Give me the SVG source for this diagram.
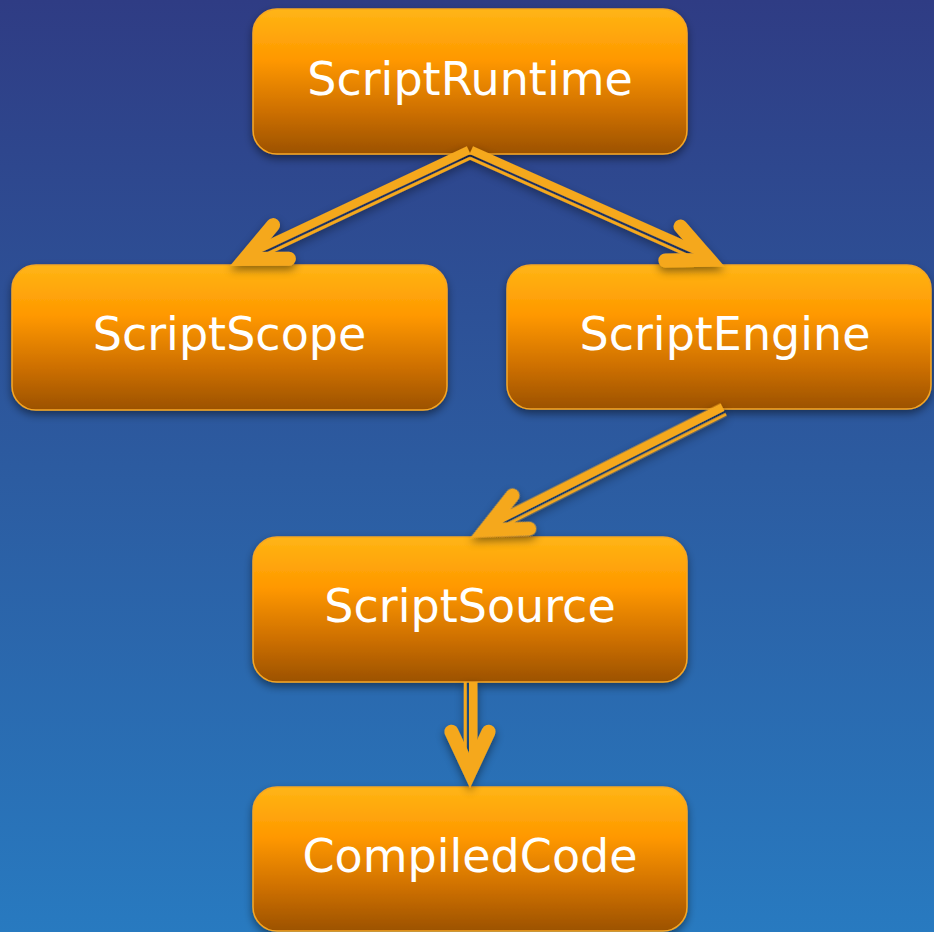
<svg xmlns="http://www.w3.org/2000/svg" width="934" height="932" viewBox="0 0 934 932">
  <defs>
    <linearGradient id="bg" x1="0" y1="0" x2="0" y2="1">
      <stop offset="0" stop-color="#2F3C84"/>
      <stop offset="0.5" stop-color="#2C5BA0"/>
      <stop offset="1" stop-color="#287AC0"/>
    </linearGradient>
    <linearGradient id="boxFill" x1="0" y1="0" x2="0" y2="1">
      <stop offset="0" stop-color="#FFB515"/>
      <stop offset="0.35" stop-color="#FF9800"/>
      <stop offset="0.7" stop-color="#CE7000"/>
      <stop offset="1" stop-color="#9C5200"/>
    </linearGradient>
    <filter id="shadow" x="-10%" y="-10%" width="120%" height="135%">
      <feDropShadow dx="0" dy="4" stdDeviation="4" flood-color="#000" flood-opacity="0.45"/>
    </filter>
  </defs>
  <style>
    .node rect { fill: url(#boxFill); stroke: #F6A623; stroke-width: 1.5; filter: url(#shadow); }
    .node text { font-family: "DejaVu Sans", "Liberation Sans", sans-serif; font-size: 46px; fill: #FFFFFF; text-anchor: middle; }
    .edge line { stroke: #F5A81F; stroke-linecap: butt; }
    .edge .thick { stroke-width: 8.5; }
    .edge .thin { stroke-width: 3; }
    .edge .head { fill: none; stroke: #F5A81F; stroke-width: 14; stroke-linecap: round; stroke-linejoin: miter; }
    #connectors { filter: url(#shadow); }
  </style>

  <rect x="0" y="0" width="934" height="932" fill="url(#bg)"/>

  <g id="nodes">
    <g id="ScriptRuntime" class="node">
      <rect x="253" y="9" width="434" height="145" rx="24" ry="24"/>
      <text x="470" y="95">ScriptRuntime</text>
    </g>
    <g id="ScriptScope" class="node">
      <rect x="12" y="265" width="435" height="145" rx="24" ry="24"/>
      <text x="229.5" y="350">ScriptScope</text>
    </g>
    <g id="ScriptEngine" class="node">
      <rect x="507" y="265" width="424" height="144" rx="24" ry="24"/>
      <text x="725" y="350">ScriptEngine</text>
    </g>
    <g id="ScriptSource" class="node">
      <rect x="253" y="537" width="434" height="145" rx="24" ry="24"/>
      <text x="470" y="622">ScriptSource</text>
    </g>
    <g id="CompiledCode" class="node">
      <rect x="253" y="787" width="434" height="144" rx="24" ry="24"/>
      <text x="470" y="872">CompiledCode</text>
    </g>
  </g>

  <!-- double-lined arrows: thick rail + thin rail, open V head -->
  <g id="connectors">
    <g class="edge" id="runtime-scope" transform="translate(470,153) rotate(154.8)">
      <line class="thick" x1="0" y1="3.2" x2="244" y2="3.2"/>
      <line class="thin" x1="2" y1="-4.8" x2="236" y2="-4.8"/>
      <path class="head" d="M208.9,-18.6 L248.8,0 L208.9,18.6"/>
    </g>
    <g class="edge" id="runtime-engine" transform="translate(470,153) rotate(24.03)">
      <line class="thick" x1="0" y1="-3.2" x2="257" y2="-3.2"/>
      <line class="thin" x1="2" y1="4.8" x2="249" y2="4.8"/>
      <path class="head" d="M222.2,-18.6 L262.1,0 L222.2,18.6"/>
    </g>
    <g class="edge" id="engine-source" transform="translate(724,410) rotate(153.3)">
      <line class="thick" x1="0" y1="3.2" x2="262" y2="3.2"/>
      <line class="thin" x1="0" y1="-4.8" x2="254" y2="-4.8"/>
      <path class="head" d="M227.3,-18.6 L267.2,0 L227.3,18.6"/>
    </g>
    <g class="edge" id="source-compiled" transform="translate(470,682) rotate(90)">
      <line class="thick" x1="0" y1="-3.2" x2="85" y2="-3.2"/>
      <line class="thin" x1="0" y1="4.8" x2="78" y2="4.8"/>
      <path class="head" d="M49.7,-18.6 L89.6,0 L49.7,18.6"/>
    </g>
  </g>
</svg>
